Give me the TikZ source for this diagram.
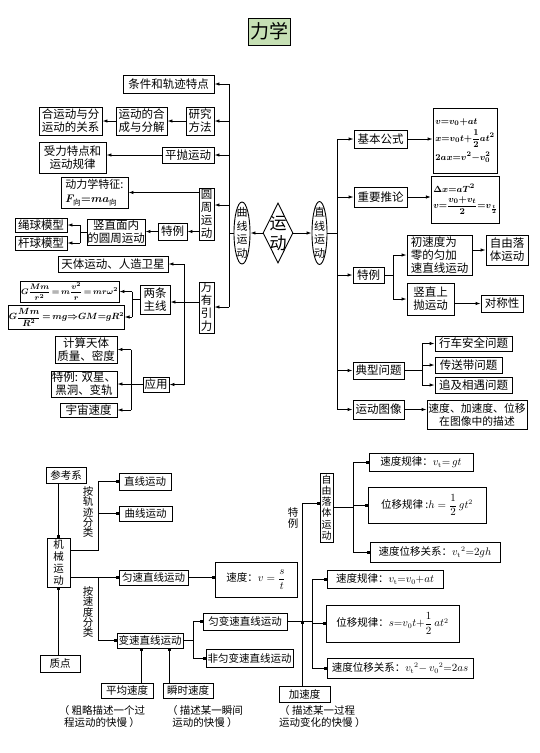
\documentclass[tikz,border=0pt]{standalone}
\usepackage{amsmath}
\usepackage[no-math]{fontspec}
\newfontfamily\cjk{Noto Sans CJK SC}
\usetikzlibrary{arrows.meta,shapes.geometric}
\definecolor{tgreen}{RGB}{198,224,180}
\tikzset{
  tb/.style={draw, line width=0.9pt, inner sep=0pt, align=center, font=\cjk\fontsize{11.5}{13}\selectfont},
  bb/.style={draw, line width=0.6pt, inner sep=0pt, align=center, font=\cjk\fontsize{10.5}{12}\selectfont},
  bt/.style={inner sep=0pt, align=center, font=\cjk\fontsize{10.5}{12}\selectfont},
  sz/.style 2 args={minimum width=#1, minimum height=#2},
  tl/.style={line width=0.9pt},
  ta/.style={line width=0.9pt, -{Latex[length=5pt,width=3.5pt]}},
  bl/.style={line width=0.6pt},
  ba/.style={line width=0.6pt, -{Square[length=2.5pt,width=2.5pt]}},
}
\begin{document}
\begin{tikzpicture}[x=1pt,y=-1pt]
\useasboundingbox[fill=white] (0,0) rectangle (540,753);
% title
\node[draw, line width=0.6pt, inner sep=0pt, sz={42}{27}, fill=tgreen, font=\cjk\fontsize{19}{20}\selectfont] (title) at (269,31.5) {力学};
% ---------- top left ----------
\node[tb,sz={91}{18}] (tjtd) at (168.5,84) {条件和轨迹特点};
\node[tb,sz={28}{28}] (yjff) at (200,121) {研究\\方法};
\node[tb,sz={51}{28}] (hc) at (141.5,121) {运动的合\\成与分解};
\node[tb,sz={63}{28}] (gx) at (70.5,121) {合运动与分\\运动的关系};
\node[tb,sz={52}{16}] (pp) at (188,155) {平抛运动};
\node[tb,sz={67}{31}] (sl) at (72.5,157.5) {受力特点和\\运动规律};
\node[tb,sz={15}{52}] (yz) at (206.5,214) {圆\\周\\运\\动};
\node[tb,sz={67}{31},align=left,font=\cjk\fontsize{11}{14}\selectfont\boldmath] (dl) at (94.5,192.5) {动力学特征:\\$F_{\text{向}}{=}ma_{\text{向}}$};
\node[tb,sz={29}{17}] (tl1) at (172.5,231.5) {特例};
\node[tb,sz={58}{26}] (szm) at (116,232) {竖直面内\\的圆周运动};
\node[tb,sz={52}{14}] (sq) at (41,225) {绳球模型};
\node[tb,sz={52}{14}] (gq) at (41,243) {杆球模型};
% center
\node[draw, ellipse, line width=0.9pt, inner sep=0pt, sz={16}{62}] (qx) at (242,233) {};
\node[inner sep=0pt, align=center, font=\cjk\fontsize{11}{13.5}\selectfont] (qxt) at (qx) {曲\\线\\运\\动};
\node[draw, diamond, line width=0.9pt, inner sep=0pt, sz={30}{60}] (yd) at (278,233) {};
\node[inner sep=0pt, align=center, font=\cjk\fontsize{17}{20}\selectfont] (ydt) at (yd) {运\\动};
\node[draw, ellipse, line width=0.9pt, inner sep=0pt, sz={15}{63}] (zx) at (319.5,233) {};
\node[inner sep=0pt, align=center, font=\cjk\fontsize{11}{13.5}\selectfont] (zxt) at (zx) {直\\线\\运\\动};
% wan you yin li
\node[tb,sz={15}{51}] (wy) at (206.5,307.5) {万\\有\\引\\力};
\node[tb,sz={110}{16}] (tt) at (113,264) {天体运动、人造卫星};
\node[tb,sz={30}{29}] (lt) at (155,299.5) {两条\\主线};
\node[tb,sz={99}{21},font=\fontsize{8.5}{9}\selectfont\boldmath] (f1) at (69.5,291.5) {$G\dfrac{Mm}{r^2}\,{=}\,m\dfrac{v^2}{r}\,{=}\,mr\omega^2$};
\node[tb,sz={107}{24},font=\fontsize{9}{9}\selectfont\boldmath] (f2) at (66.5,317) {$G\dfrac{Mm}{R^2}\,{=}\,mg{\Rightarrow}GM{=}gR^2$};
\node[tb,sz={62}{27}] (jd) at (86,349.5) {计算天体\\质量、密度};
\node[tb,sz={66}{26}] (tl2) at (84,384) {特例: 双星、\\黑洞、变轨};
\node[tb,sz={57}{14}] (yz2) at (88.5,410) {宇宙速度};
\node[tb,sz={26}{15}] (yy) at (156,384.5) {应用};
% ---------- top right ----------
\node[tb,sz={53}{18}] (jb) at (380.5,139) {基本公式};
\node[tb,sz={64}{65},align=left,inner xsep=2pt,font=\fontsize{9.5}{11}\selectfont\boldmath] (fb1) at (465,140.5) {$v{=}v_0{+}at$\\[3pt]$x{=}v_0t{+}\dfrac{1}{2}at^2$\\[4pt]$2ax{=}v^2{-}v_0^2$};
\node[tb,sz={53}{20}] (zy) at (380.5,197) {重要推论};
\node[tb,sz={65}{47},align=left,inner xsep=2pt,font=\fontsize{9.5}{11}\selectfont\boldmath] (fb2) at (465.5,199.5) {$\Delta x{=}aT^2$\\[3pt]$v{=}\dfrac{v_0{+}v_t}{2}{=}v_{\frac{t}{2}}$};
\node[tb,sz={31}{16}] (tl3) at (368.5,275) {特例};
\node[tb,sz={65}{40},align=left] (csd) at (439.5,255) {初速度为\\零的匀加\\速直线运动};
\node[tb,sz={42}{30}] (zy2) at (507,250) {自由落\\体运动};
\node[tb,sz={47}{32}] (sz) at (430.5,299) {竖直上\\抛运动};
\node[tb,sz={42}{17}] (dc) at (502,303.5) {对称性};
\node[tb,sz={51}{17}] (dx) at (378.5,370.5) {典型问题};
\node[tb,sz={77}{15}] (xc) at (473.5,343.5) {行车安全问题};
\node[tb,sz={67}{16}] (cs) at (468.5,365) {传送带问题};
\node[tb,sz={77}{16}] (zj) at (473.5,385) {追及相遇问题};
\node[tb,sz={51}{19}] (tx) at (378.5,409.5) {运动图像};
\node[tb,sz={100}{29},font=\cjk\fontsize{10.8}{13}\selectfont] (ms) at (477,414.5) {速度、加速度、位移\\在图像中的描述};
% ---------- top connectors ----------
\coordinate (L) at (229,233);
\coordinate (Ltop) at (229,84);
\coordinate (Lyz) at (229,205);
\coordinate (Lbot) at (229,307);
\draw[tl] (qx.west) -- (L);
\draw[tl] (Ltop) -- (Lbot);
\draw[ta] (Ltop) -- (tjtd.east);
\draw[ta] (Ltop |- yjff.east) -- (yjff.east);
\draw[ta] (Ltop |- pp.east) -- (pp.east);
\draw[ta] (Lyz) -- (Lyz -| yz.east);
\draw[ta] (Lbot) -- (Lbot -| wy.east);
\draw[ta] (yjff.west) -- (hc.east);
\draw[ta] (hc.west) -- (gx.east);
\draw[ta] (pp.west) -- (pp.west -| sl.east);
\draw[ta] (yz.west |- dl.east) -- (dl.east);
\draw[ta] (yz.west |- tl1.east) -- (tl1.east);
\draw[ta] (tl1.west) -- (tl1.west -| szm.east);
\coordinate (B1) at (80,232);
\draw[tl] (szm.west) -- (B1 |- szm.west);
\draw[tl] (B1 |- sq.east) -- (B1 |- gq.east);
\draw[ta] (B1 |- sq.east) -- (sq.east);
\draw[ta] (B1 |- gq.east) -- (gq.east);
\coordinate (W) at (184,302);
\coordinate (Wt) at (184,264);
\coordinate (Wb) at (184,384.5);
\draw[tl] (wy.west |- W) -- (W);
\draw[tl] (Wt) -- (Wb);
\draw[ta] (Wt) -- (tt.east);
\draw[ta] (W) -- (W -| lt.east);
\draw[ta] (Wb) -- (yy.east);
\coordinate (B2) at (132,299.5);
\draw[tl] (lt.west) -- (B2 |- lt.west);
\draw[tl] (B2 |- f1.east) -- (B2 |- f2.east);
\draw[ta] (B2 |- f1.east) -- (f1.east);
\draw[ta] (B2 |- f2.east) -- (f2.east);
\coordinate (B3) at (131,384.5);
\draw[tl] (yy.west) -- (B3 |- yy.west);
\draw[tl] (B3 |- jd.east) -- (B3 |- yz2.east);
\draw[ta] (B3 |- jd.east) -- (jd.east);
\draw[ta] (B3 |- tl2.east) -- (tl2.east);
\draw[ta] (B3 |- yz2.east) -- (yz2.east);
\draw[ta] (yd.west) -- (qx.east);
\draw[ta] (yd.east) -- (zx.west);
\coordinate (R) at (337,233);
\coordinate (Rt) at (337,139);
\coordinate (Rb) at (337,409.5);
\draw[tl] (zx.east) -- (R);
\draw[tl] (Rt) -- (Rb);
\draw[ta] (Rt) -- (jb.west);
\draw[ta] (Rt |- zy.west) -- (zy.west);
\draw[ta] (Rt |- tl3.west) -- (tl3.west);
\draw[ta] (Rt |- dx.west) -- (dx.west);
\draw[ta] (Rb) -- (tx.west);
\draw[ta] (jb.east) -- (jb.east -| fb1.west);
\draw[ta] (zy.east) -- (zy.east -| fb2.west);
\coordinate (B4) at (393,275);
\draw[tl] (tl3.east) -- (B4 |- tl3.east);
\draw[tl] (B4 |- csd.west) -- (B4 |- sz.west);
\draw[ta] (B4 |- csd.west) -- (csd.west);
\draw[ta] (B4 |- sz.west) -- (sz.west);
\draw[ta] (csd.east |- zy2.west) -- (zy2.west);
\draw[ta] (sz.east |- dc.west) -- (dc.west);
\coordinate (B5) at (422,370.5);
\draw[tl] (dx.east) -- (B5 |- dx.east);
\draw[tl] (B5 |- xc.west) -- (B5 |- zj.west);
\draw[ta] (B5 |- xc.west) -- (xc.west);
\draw[ta] (B5 |- cs.west) -- (cs.west);
\draw[ta] (B5 |- zj.west) -- (zj.west);
\draw[ta] (tx.east) -- (tx.east -| ms.west);
% ---------- bottom ----------
\node[bb,sz={40}{16}] (ckx) at (66,475) {参考系};
\node[bb,sz={23}{49}] (jx) at (58.5,562.5) {机\\械\\运\\动};
\node[bb,sz={40}{17}] (zd) at (60,663.5) {质点};
\node[bb,sz={52}{17}] (zxy) at (145,481.5) {直线运动};
\node[bb,sz={53}{15}] (qxy) at (145.5,513.5) {曲线运动};
\node[bb,sz={69}{15}] (ys) at (153.5,577.5) {匀速直线运动};
\node[bb,sz={82}{35}] (sd) at (256,579.5) {速度：$v=\dfrac{s}{t}$};
\node[bb,sz={66}{15}] (bs) at (150,640.5) {变速直线运动};
\node[bb,sz={84}{17}] (ybs) at (245,621.5) {匀变速直线运动};
\node[bb,sz={87}{18}] (fyb) at (249.5,658) {非匀变速直线运动};
\node[bb,sz={52}{15}] (pj) at (127,690.5) {平均速度};
\node[bb,sz={50}{15}] (ss) at (188,690.5) {瞬时速度};
\node[bt] (n1) at (102,716.5) {（ 粗略描述一个过\\程运动的快慢 ）};
\node[bt] (n2) at (205,716.5) {（ 描述某一瞬间\\运动的快慢 ）};
\node[bb,sz={51}{16}] (jsd) at (304.5,694) {加速度};
\node[bt,align=left,anchor=west] (n3) at (279,717) {（ 描述某一过程\\运动变化的快慢 ）};
\node[bb,sz={13}{69},font=\cjk\fontsize{10}{11.3}\selectfont] (zyl) at (326.5,507.5) {自\\由\\落\\体\\运\\动};
\node[bb,sz={104}{18}] (g1) at (421,462) {速度规律：$v_{\mathrm t}{=}\,gt$};
\node[bb,sz={118}{36}] (g2) at (427,505) {位移规律 :$h=\dfrac{1}{2}\,gt^2$};
\node[bb,sz={130}{20}] (g3) at (435,552) {速度位移关系：${v_{\mathrm t}}^{2}{=}2gh$};
\node[bb,sz={116}{18}] (a1) at (385,579) {速度规律：$v_{\mathrm t}{=}v_0{+}at$};
\node[bb,sz={133}{37}] (a2) at (392.5,623.5) {位移规律：$s{=}v_0t{+}\dfrac{1}{2}\,at^2$};
\node[bb,sz={146}{20}] (a3) at (400,668) {速度位移关系：${v_{\mathrm t}}^{2}{-}\,{v_0}^{2}{=}2as$};
\node[bt,font=\cjk\fontsize{10.5}{10.2}\selectfont] (lb1) at (88,512) {按\\轨\\迹\\分\\类};
\node[bt,font=\cjk\fontsize{10.5}{10.2}\selectfont] (lb2) at (88,612) {按\\速\\度\\分\\类};
\node[bt,font=\cjk\fontsize{10.5}{10.5}\selectfont] (lb3) at (293,518) {特\\例};
% ---------- bottom connectors ----------
\draw[ba] (ckx.south -| jx.north) -- (jx.north);
\draw[ba] (zd.north -| jx.south) -- (jx.south);
\coordinate (K1) at (98,550);
\draw[bl] (K1 -| jx.east) -- (K1) -- (K1 |- zxy.west);
\draw[ba] (K1 |- zxy.west) -- (zxy.west);
\draw[ba] (K1 |- qxy.west) -- (qxy.west);
\draw[ba] (ys.west -| jx.east) -- (ys.west);
\draw[bl] (K1 |- ys.west) -- (K1 |- bs.west);
\draw[ba] (K1 |- bs.west) -- (bs.west);
\draw[ba] (ys.east) -- (ys.east -| sd.west);
\coordinate (K2) at (193,640.5);
\draw[bl] (bs.east) -- (K2 |- bs.east);
\draw[bl] (K2 |- ybs.west) -- (K2 |- fyb.west);
\draw[ba] (K2 |- ybs.west) -- (ybs.west);
\draw[ba] (K2 |- fyb.west) -- (fyb.west);
\coordinate (P1) at (141,690);
\coordinate (P2) at (169,690);
\draw[ba] (P1 |- pj.north) -- (P1 |- bs.south);
\draw[ba] (P2 |- ss.north) -- (P2 |- bs.south);
\coordinate (J1) at (302,621.5);
\coordinate (T1) at (302,503);
\draw[ba] (J1 |- jsd.north) -- (J1);
\draw[bl] (J1) -- (T1);
\draw[ba] (T1) -- (T1 -| zyl.west);
\coordinate (A0) at (312,621.5);
\draw[bl] (ybs.east) -- (A0 |- ybs.east);
\draw[bl] (A0 |- a1.west) -- (A0 |- a3.west);
\draw[ba] (A0 |- a1.west) -- (a1.west);
\draw[ba] (A0 |- a2.west) -- (a2.west);
\draw[ba] (A0 |- a3.west) -- (a3.west);
\coordinate (G0) at (353,507.5);
\draw[bl] (zyl.east) -- (G0 |- zyl.east);
\draw[bl] (G0 |- g1.west) -- (G0 |- g3.west);
\draw[ba] (G0 |- g1.west) -- (g1.west);
\draw[ba] (G0 |- g2.west) -- (g2.west);
\draw[ba] (G0 |- g3.west) -- (g3.west);
\end{tikzpicture}
\end{document}
